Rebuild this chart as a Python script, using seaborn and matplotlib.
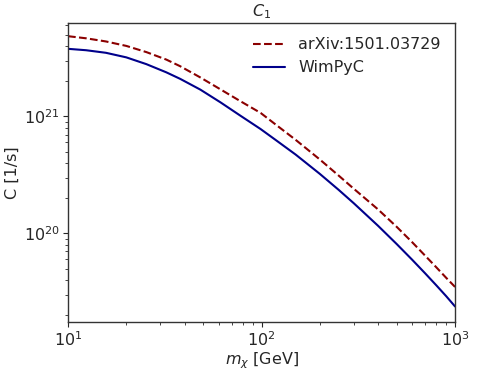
import numpy as np
import pandas as pd
import matplotlib
matplotlib.use("Agg")
import matplotlib.pyplot as plt
import seaborn as sns

mass = [10, 12.4, 15.7, 20, 25.4, 32.2, 38, 48.3, 61.4, 77.8, 98.9, 118, 150,
        200, 250, 300, 400, 500, 600, 700, 800, 900, 1000]
log_c_arxiv = [21.686, 21.668, 21.641, 21.603, 21.550, 21.486, 21.429, 21.333, 21.231,
               21.130, 21.030, 20.932, 20.800, 20.632, 20.495, 20.381, 20.205, 20.055,
               19.925, 19.810, 19.710, 19.620, 19.542]
log_c_wimpyc = [21.578, 21.566, 21.544, 21.505, 21.447, 21.377, 21.321, 21.229, 21.120,
                21.006, 20.892, 20.800, 20.674, 20.509, 20.373, 20.257, 20.065, 19.908,
                19.775, 19.659, 19.556, 19.463, 19.375]
labels = ["arXiv:1501.03729", "WimPyC"]

df = pd.concat([
    pd.DataFrame({"m": mass, "C": 10 ** np.array(log_c_arxiv), "src": labels[0]}),
    pd.DataFrame({"m": mass, "C": 10 ** np.array(log_c_wimpyc), "src": labels[1]}),
])

sns.set_style("ticks")
plt.rcParams["font.family"] = ["DejaVu Sans"]

fig = plt.figure(figsize=(4.93, 3.70), dpi=100)
ax = fig.add_axes([0.138, 0.130, 0.785, 0.808])

sns.lineplot(data=df[df.src == labels[0]], x="m", y="C", ax=ax, color="#8b0000",
             linestyle="--", linewidth=1.5, label=labels[0])
sns.lineplot(data=df[df.src == labels[1]], x="m", y="C", ax=ax, color="#00008b",
             linestyle="-", linewidth=1.5, label=labels[1])

ax.set_xscale("log")
ax.set_yscale("log")
ax.set_xlim(10, 1000)
ax.set_ylim(1.75e19, 6.3e21)
ax.set_xlabel(r"$m_\chi$ [GeV]", fontsize=11.5, labelpad=1)
ax.set_ylabel("C [1/s]", fontsize=11.5, labelpad=3)
ax.set_title(r"$C_1$", fontsize=11.5, pad=5)
ax.tick_params(axis="both", which="major", labelsize=11.5, length=3.5, width=0.8, pad=2.5)
ax.tick_params(axis="both", which="minor", length=2, width=0.6)
leg = ax.legend(frameon=False, fontsize=11.5, loc="upper right")
for s in ax.spines.values():
    s.set_linewidth(1.0)
    s.set_color("#333333")

fig.savefig("out.png", dpi=100)
